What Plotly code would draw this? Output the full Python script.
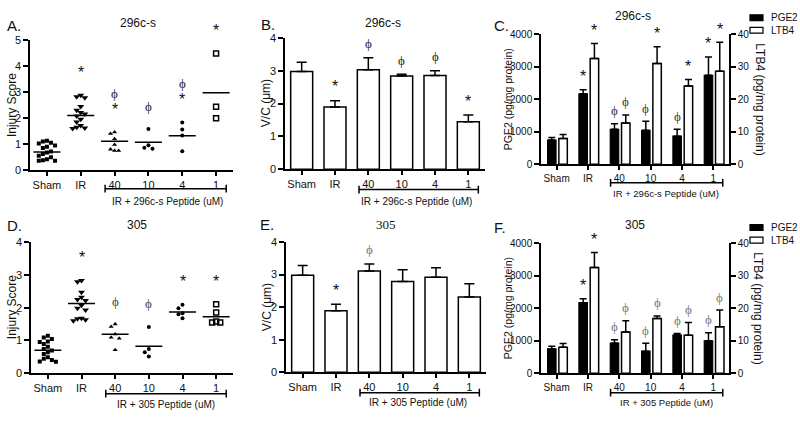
import plotly.graph_objects as go

W, H = 800, 421

# ---------------- data ----------------
categories = ["Sham", "IR", "40", "10", "4", "1"]
series_names = ["PGE2", "LTB4"]
label_296 = "IR + 296c-s Peptide (uM)"
label_305 = "IR + 305 Peptide (uM)"

# Panel A – injury score, 296c-s
A_sham = [1.13, 1.1, 1.05, 1.02, 0.95, 0.9, 0.85, 0.72, 0.68, 0.62, 0.55, 0.5, 0.42, 0.38, 0.36, 0.36]
A_ir = [2.88, 2.82, 2.78, 2.45, 2.3, 2.22, 2.16, 2.08, 1.96, 1.85, 1.72, 1.65, 1.62, 1.6]
A_40 = [1.46, 1.4, 1.2, 0.98, 0.8, 0.75, 0.75]
A_10 = [1.58, 0.96, 0.86, 0.82]
A_4 = [1.83, 1.56, 1.33, 0.73]
A_1 = [4.48, 2.44, 1.99]
A_mean = [0.7, 2.1, 1.11, 1.07, 1.32, 2.97]
A_sig = [[], ["*"], ["*", "ϕ"], ["ϕ"], ["*", "ϕ"], ["*"]]

# Panel D – injury score, 305
D_sham = [1.14, 1.09, 1.04, 0.97, 0.95, 0.89, 0.81, 0.74, 0.69, 0.64, 0.59, 0.49, 0.44, 0.4, 0.36, 0.35]
D_ir = [2.83, 2.79, 2.47, 2.32, 2.25, 2.22, 2.07, 1.98, 1.93, 1.68, 1.66, 1.63, 1.6]
D_40 = [1.5, 1.42, 1.19, 1.09, 1.06, 0.71]
D_10 = [1.41, 0.74, 0.64, 0.51]
D_4 = [2.09, 1.98, 1.83, 1.8, 1.68]
D_1 = [2.1, 1.85, 1.58, 1.55, 1.55]
D_mean = [0.7, 2.13, 1.19, 0.82, 1.87, 1.72]
D_sig = [[], ["*"], ["ϕ"], ["ϕ"], ["*"], ["*"]]

# Panel B – V/C, 296c-s
B_mean = [2.98, 1.9, 3.03, 2.84, 2.86, 1.45]
B_sem = [0.28, 0.19, 0.37, 0.06, 0.14, 0.2]
B_sig = [[], ["*"], ["ϕ"], ["ϕ"], ["ϕ"], ["*"]]

# Panel E – V/C, 305
E_mean = [2.98, 1.89, 3.11, 2.79, 2.92, 2.31]
E_sem = [0.3, 0.2, 0.22, 0.36, 0.29, 0.41]
E_sig = [[], ["*"], ["ϕ"], [], [], []]

# Panel C – PGE2 / LTB4, 296c-s
C_pge2 = [746, 2169, 1075, 1045, 866, 2736]
C_pge2_sem = [80, 120, 170, 280, 210, 565]
C_ltb4 = [7.96, 32.5, 12.7, 31.0, 24.1, 28.6]
C_ltb4_sem = [1.2, 4.6, 2.5, 5.1, 2.0, 8.9]
C_pge2_sig = ["", "*", "ϕ", "ϕ", "ϕ", "*"]
C_ltb4_sig = ["", "*", "ϕ", "*", "*", "*"]

# Panel F – PGE2 / LTB4, 305
F_pge2 = [746, 2169, 925, 677, 1172, 995]
F_pge2_sem = [80, 120, 100, 248, 50, 249]
F_ltb4 = [7.96, 32.5, 12.7, 16.8, 11.7, 14.3]
F_ltb4_sem = [1.2, 4.6, 3.4, 0.8, 3.9, 5.1]
F_pge2_sig = ["", "*", "ϕ", "ϕ", "ϕ", "ϕ"]
F_ltb4_sig = ["", "*", "ϕ", "ϕ", "ϕ", "ϕ"]

# ---------------- styling helpers ----------------
FONT = "Liberation Sans, Arial, Helvetica, sans-serif"
SERIF = "Liberation Serif, Times New Roman, serif"
PHI_FONT = "Liberation Serif, DejaVu Serif, serif"
INK = "#111111"

SYMBOLS = ["square", "triangle-down", "triangle-up", "circle", "circle", "square-open"]
SIZES = [4, 6, 4.5, 4, 4, 5]


def px(x):
    return x / W


def py(y):
    return 1 - y / H


fig = go.Figure()
annotations = []
shapes = []


def text(x, y, t, size, angle=0, xanchor="center", family=FONT, color=INK):
    annotations.append(dict(xref="paper", yref="paper", x=px(x), y=py(y), text=t,
                            showarrow=False, textangle=angle, xanchor=xanchor, yanchor="middle",
                            font=dict(family=family, size=size, color=color)))


def sig(xa, ya, x, y, s, shift, phi_color):
    if s == "*":
        annotations.append(dict(xref=xa, yref=ya, x=x, y=y, text="*", showarrow=False,
                                yanchor="middle", yshift=shift,
                                font=dict(family=FONT, size=16, color=INK)))
    elif s:
        annotations.append(dict(xref=xa, yref=ya, x=x, y=y, text=s, showarrow=False,
                                yanchor="middle", yshift=shift, opacity=0.99,
                                font=dict(family=PHI_FONT, size=13, color=phi_color)))


def swarm(vals, span, step=0.12, tol_frac=0.037):
    offs = [0.0] * len(vals)
    placed = []
    order = sorted(range(len(vals)), key=lambda i: -vals[i])
    cands = [0, -step, step, -2 * step, 2 * step, -3 * step, 3 * step]
    tol = tol_frac * span
    for i in order:
        for c in cands:
            if all(not (abs(vals[i] - vals[j]) < tol and abs(c - offs[j]) < step * 0.9) for j in placed):
                offs[i] = c
                break
        placed.append(i)
    return offs


def xcfg(x0, x1, anchor, fs):
    return dict(domain=[px(x0), px(x1)], anchor=anchor, range=[-0.5, 5.5],
                tickmode="array", tickvals=list(range(len(categories))), ticktext=categories,
                showline=True, linecolor="black", linewidth=1.5, ticks="outside", ticklen=4,
                tickwidth=1.5, tickcolor="black", showgrid=False, zeroline=False,
                tickfont=dict(family=FONT, size=fs, color=INK), fixedrange=True)


def ycfg(top, bottom, anchor, rng, dtick, fs):
    return dict(domain=[py(bottom), py(top)], anchor=anchor, range=rng, dtick=dtick,
                tick0=0, showline=True, linecolor="black", linewidth=1.5, ticks="outside",
                ticklen=5, tickwidth=1.5, tickcolor="black", showgrid=False, zeroline=False,
                tickfont=dict(family=FONT, size=fs, color=INK), fixedrange=True)


def bracket(xa, y_px, x0=1.72, x1=5.3):
    yb = py(y_px)
    cap = 4 / H
    for seg in [(x0, yb, x1, yb), (x0, yb - cap, x0, yb + cap), (x1, yb - cap, x1, yb + cap)]:
        shapes.append(dict(type="line", xref=xa, yref="paper", x0=seg[0], y0=seg[1],
                           x1=seg[2], y1=seg[3], line=dict(color="black", width=1.5)))


def dot_panel(xa, ya, groups, means, sigs, span, phi_color):
    for i, vals in enumerate(groups):
        offs = swarm(vals, span)
        is_open = SYMBOLS[i].endswith("open")
        fig.add_trace(go.Scatter(
            x=[i + o for o in offs], y=vals, mode="markers", xaxis=xa, yaxis=ya,
            marker=dict(symbol=SYMBOLS[i], size=SIZES[i], color="black",
                        line=dict(color="black", width=1.5 if is_open else 0)),
            showlegend=False, hoverinfo="skip"))
        fig.add_trace(go.Scatter(
            x=[i - 0.4, i + 0.4], y=[means[i], means[i]], mode="lines", xaxis=xa, yaxis=ya,
            line=dict(color="black", width=1.5), showlegend=False, hoverinfo="skip"))
        top = max(vals)
        for k, s in enumerate(sigs[i]):
            sig(xa, ya, i, top, s, 23 + 16 * k, phi_color)


def bar_panel(xa, ya, means, sems, sigs, phi_color):
    xs = list(range(len(categories)))
    fig.add_trace(go.Bar(
        x=xs, y=means, xaxis=xa, yaxis=ya, width=0.66,
        marker=dict(color="white", line=dict(color="black", width=1.5)),
        error_y=dict(type="data", array=sems, arrayminus=[0] * len(sems), symmetric=False,
                     color="black", thickness=1.5, width=5),
        showlegend=False, hoverinfo="skip"))
    for i in xs:
        for k, s in enumerate(sigs[i]):
            sig(xa, ya, i, means[i] + sems[i], s, 14 + 16 * k, phi_color)


P_OFF, L_OFF, BW = -0.29, 0.07, 0.27


def pair_panel(xa, ya, ya2, pge2, pge2_sem, ltb4, ltb4_sem, s1, s2, phi_color):
    xs = list(range(len(categories)))
    fig.add_trace(go.Bar(
        x=xs, y=pge2, xaxis=xa, yaxis=ya, width=BW, offset=P_OFF, name=series_names[0],
        marker=dict(color="black", line=dict(color="black", width=1.2)),
        error_y=dict(type="data", array=pge2_sem, arrayminus=[0] * 6, symmetric=False,
                     color="black", thickness=1.5, width=3.5),
        showlegend=False, hoverinfo="skip"))
    fig.add_trace(go.Bar(
        x=xs, y=ltb4, xaxis=xa, yaxis=ya2, width=BW, offset=L_OFF, name=series_names[1],
        marker=dict(color="white", line=dict(color="black", width=1.5)),
        error_y=dict(type="data", array=ltb4_sem, arrayminus=[0] * 6, symmetric=False,
                     color="black", thickness=1.5, width=3.5),
        showlegend=False, hoverinfo="skip"))
    for i in xs:
        sig(xa, ya, i + P_OFF + BW / 2, pge2[i] + pge2_sem[i], s1[i], 13, phi_color)
        sig(xa, ya2, i + L_OFF + BW / 2, ltb4[i] + ltb4_sem[i], s2[i], 13, phi_color)


def legend(x, y1, y2):
    for (yy, name, fill) in [(y1, series_names[0], "black"), (y2, series_names[1], "white")]:
        shapes.append(dict(type="rect", xref="paper", yref="paper", x0=px(x), x1=px(x + 13),
                           y0=py(yy + 3), y1=py(yy - 3), fillcolor=fill,
                           line=dict(color="black", width=1.2)))
        text(x + 19, yy, name, 10, xanchor="left")


# ---------------- panels ----------------
dot_panel("x", "y", [A_sham, A_ir, A_40, A_10, A_4, A_1], A_mean, A_sig, 5, "#222222")
bar_panel("x2", "y2", B_mean, B_sem, B_sig, "#222222")
pair_panel("x3", "y3", "y7", C_pge2, C_pge2_sem, C_ltb4, C_ltb4_sem, C_pge2_sig, C_ltb4_sig, "#333333")
dot_panel("x4", "y4", [D_sham, D_ir, D_40, D_10, D_4, D_1], D_mean, D_sig, 4, "#444444")
bar_panel("x5", "y5", E_mean, E_sem, E_sig, "#777777")
pair_panel("x6", "y6", "y8", F_pge2, F_pge2_sem, F_ltb4, F_ltb4_sem, F_pge2_sig, F_ltb4_sig, "#777777")

layout = dict(
    xaxis=xcfg(30, 233, "y", 11), yaxis=ycfg(35, 169, "x", [0, 5], 1, 11),
    xaxis2=xcfg(285, 485, "y2", 11), yaxis2=ycfg(33, 168, "x2", [0, 4], 1, 11),
    xaxis3=xcfg(541, 729, "y3", 10), yaxis3=ycfg(29, 163, "x3", [0, 4000], 1000, 10),
    xaxis4=xcfg(31, 233, "y4", 11), yaxis4=ycfg(243, 378, "x4", [0, 4], 1, 11),
    xaxis5=xcfg(286, 486, "y5", 11), yaxis5=ycfg(243, 377, "x5", [0, 4], 1, 11),
    xaxis6=xcfg(541, 729, "y6", 10), yaxis6=ycfg(244, 378, "x6", [0, 4000], 1000, 10),
)
y7 = ycfg(29, 163, "x3", [0, 40], 10, 10)
y7.update(overlaying="y3", side="right")
y8 = ycfg(244, 378, "x6", [0, 40], 10, 10)
y8.update(overlaying="y6", side="right")
layout["yaxis7"] = y7
layout["yaxis8"] = y8

# brackets and their labels
bracket("x", 188)
bracket("x2", 189)
bracket("x3", 182)
bracket("x4", 399)
bracket("x5", 398)
bracket("x6", 398)
text(167, 201, label_296, 10)
text(416, 201, label_296, 10)
text(666, 193, label_296, 9.5)
text(166, 410, label_305, 10)
text(418, 408, label_305, 10)
text(666, 408, label_305, 9.5)

# panel letters
for (x, y, t) in [(5, 20, "A."), (259, 19, "B."), (492, 20, "C."),
                  (5, 226, "D."), (258, 225, "E."), (492, 228, "F.")]:
    text(x, y, t, 15, xanchor="left")

# panel titles
text(138, 17, "296c-s", 12)
text(383, 17, "296c-s", 12)
text(633, 10, "296c-s", 12)
text(137, 225, "305", 12)
text(386, 225, "305", 13, family=SERIF)
text(635, 225, "305", 12)

# axis titles
text(12, 102, "Injury Score", 12, angle=-90)
text(12, 310, "Injury Score", 12, angle=-90)
text(266, 100, "V/C (μm)", 12, angle=-90)
text(267, 310, "V/C (μm)", 12, angle=-90)
text(508, 96, "PGE2 (pg/mg protein)", 10.5, angle=-90)
text(508, 311, "PGE2 (pg/mg protein)", 10.5, angle=-90)
text(760, 96, "LTB4 (pg/mg protein)", 12, angle=90)
text(758, 311, "LTB4 (pg/mg protein)", 12, angle=90)

legend(750, 12, 25)
legend(750, 228, 241)

fig.update_layout(**layout)
fig.update_layout(
    width=W, height=H, margin=dict(l=0, r=0, t=0, b=0),
    paper_bgcolor="white", plot_bgcolor="white", showlegend=False,
    font=dict(family=FONT, color=INK),
    annotations=annotations, shapes=shapes,
)

# remove the default page margin so the figure sits at the window's corner
fig.write_html("out.html", config={"displayModeBar": False},
               post_script="document.body.style.margin='0';")
